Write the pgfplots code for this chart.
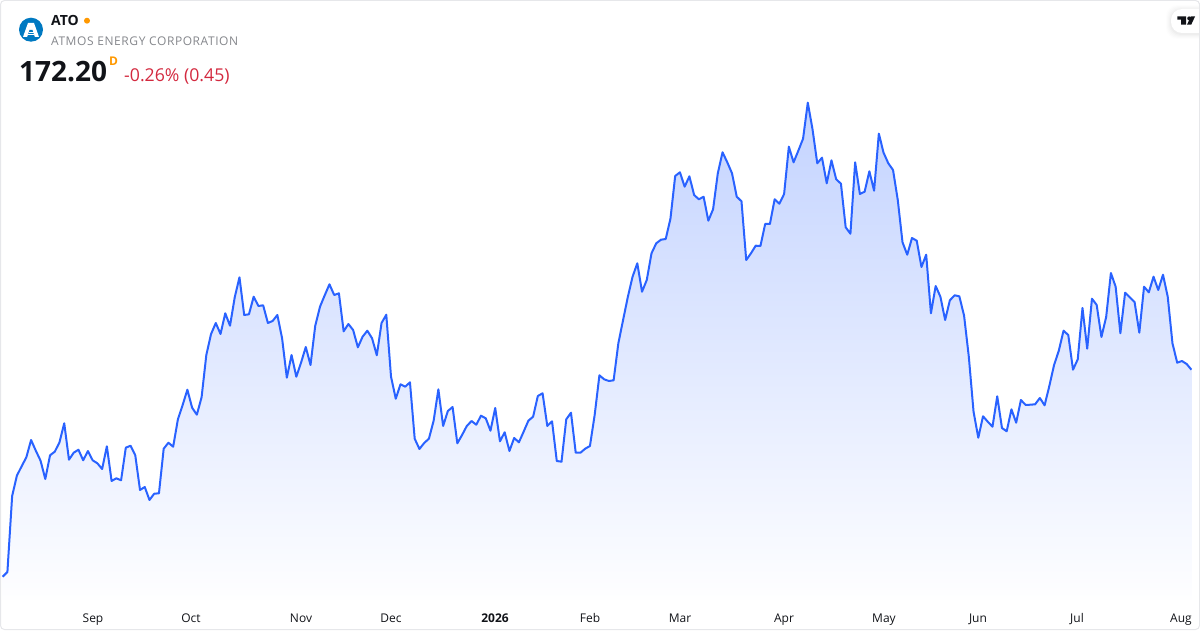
\documentclass[border=0pt]{standalone}
\usepackage{fontspec}
\setmainfont{Open Sans}
\usepackage{pgfplots}
\usepackage{pgfplotstable}
\pgfplotsset{compat=1.18}
\definecolor{tvline}{HTML}{2962FF}
\definecolor{tvtop}{HTML}{C3D3FF}
\definecolor{tvbot}{HTML}{FEFEFF}
\definecolor{tvframe}{HTML}{E6E7EA}
\definecolor{tvtext}{HTML}{111318}
\definecolor{tvgray}{HTML}{85878C}
\definecolor{tvred}{HTML}{D3293F}
\definecolor{tvorange}{HTML}{FF9800}
\definecolor{atoblue}{HTML}{0079C1}
% i = trading-day index, p = vertical position (px from the top)
\pgfplotstableread{
i p
0 576.7
1 572
2 496
3 475.7
4 466.3
5 457.3
6 440
7 450.7
8 460.7
9 479
10 455.3
11 451.7
12 442.3
13 423.3
14 459.7
15 452.7
16 449.7
17 460.3
18 451
19 460.3
20 463.3
21 469
22 446.3
23 481
24 478.3
25 480.3
26 447.7
27 445.7
28 455.3
29 490
30 487
31 500
32 493.7
33 493.3
34 448.7
35 442.7
36 446.7
37 419.3
38 405
39 389.7
40 407.7
41 414.7
42 397.3
43 355
44 334
45 323
46 334
47 313.3
48 325.7
49 297.3
50 277.3
51 315
52 314.3
53 296.7
54 306
55 305.3
56 323
57 321
58 315
59 338.3
60 377.7
61 355
62 376.7
63 362.7
64 347
65 365
66 325.7
67 306.7
68 295.3
69 284.3
70 295
71 293.3
72 331.3
73 324
74 330
75 347.3
76 336.7
77 330.7
78 338.3
79 355.3
80 323
81 314.7
82 376.7
83 398.7
84 384.3
85 386.7
86 382.3
87 438.7
88 449
89 443
90 438.7
91 420.7
92 389.3
93 426
94 411
95 407
96 443.3
97 435
98 426
99 421
100 424.7
101 415.7
102 418.3
103 430.7
104 408
105 441.3
106 432.3
107 451
108 438
109 442.3
110 431.7
111 420.7
112 416.7
113 396
114 393.3
115 426
116 421.3
117 461
118 461.7
119 419.3
120 412.7
121 452.7
122 452.7
123 448.7
124 446
125 415
126 375.3
127 379.3
128 381
129 380.3
130 343.3
131 320
132 297
133 276.7
134 263.3
135 291.7
136 280
137 253.3
138 243.3
139 239.7
140 239
141 218.7
142 176
143 172.3
144 186.7
145 176.3
146 195
147 199.3
148 196.7
149 220.7
150 209.3
151 173.3
152 152.3
153 162.3
154 173.3
155 196.7
156 201.3
157 260
158 253.3
159 245.7
160 246
161 224
162 224
163 199.3
164 203.7
165 194
166 146.7
167 162.3
168 150.7
169 138.7
170 102.7
171 129.3
172 163.3
173 157.7
174 183.3
175 160.3
176 179.3
177 183.7
178 227.3
179 233.7
180 162.3
181 194
182 191.7
183 171.3
184 190.7
185 133.7
186 152.7
187 163.3
188 170
189 200
190 242.3
191 254.7
192 238
193 240.7
194 267
195 254.7
196 313.3
197 286
198 296.7
199 320
200 300.3
201 295.3
202 296.3
203 315.7
204 356.7
205 411.7
206 437.7
207 416.3
208 421.7
209 426.7
210 396.3
211 428
212 431.3
213 409.3
214 422.7
215 400
216 405
217 404.7
218 404.3
219 398
220 405.3
221 386
222 365
223 350.7
224 330.7
225 335
226 369.7
227 359.3
228 308
229 348.7
230 298.7
231 305
232 337
233 317
234 273
235 286.7
236 333.3
237 292.7
238 297.3
239 302
240 332.7
241 286.7
242 292.3
243 276.7
244 290
245 274.7
246 296.7
247 343.3
248 362.7
249 361
250 364
251 369.7
}\atodata
\begin{document}
\begin{tikzpicture}
\useasboundingbox (0,-30pt) rectangle (1200pt,600pt);
\begin{axis}[
  at={(0,0)}, anchor=south west,
  width=1200pt, height=600pt, scale only axis,
  xmin=0, xmax=1200, ymin=0, ymax=600,
  axis line style={draw=none},
  ytick=\empty,
  xtick={93,191,301,391,495,590,680,784,884,978,1077,1181},
  xticklabels={Sep,Oct,Nov,Dec,\textbf{2026},Feb,Mar,Apr,May,Jun,Jul,Aug},
  major tick length=0pt,
  tick align=outside,
  xticklabel style={font=\fontsize{12}{14}\selectfont, text=tvtext, anchor=base, yshift=-22pt},
]
\addplot[draw=none, top color=tvtop, bottom color=tvbot, forget plot]
  table[x expr=\thisrow{i}*4.736+2.67, y expr=600-\thisrow{p}] {\atodata} \closedcycle;
\addplot[tvline, line width=2pt, line join=round, no marks]
  table[x expr=\thisrow{i}*4.736+2.67, y expr=600-\thisrow{p}] {\atodata};
\end{axis}
\begin{scope}[shift={(0,600pt)}, x=1pt, y=-1pt]
  % frame
  \draw[tvframe, line width=1pt, rounded corners=4pt] (0.5,0.5) rectangle (1199.5,629.5);
  % TradingView badge
  \foreach \g/\o in {5/.008,4/.01,3/.012,2/.015,1/.02}{
    \fill[black, opacity=\o, rounded corners=11pt] (1171-\g,9-\g+1) rectangle (1215,33+\g+1);
  }
  \fill[white, rounded corners=11pt] (1171,9) rectangle (1215,33);
  \fill[white] (1199,3) rectangle (1201,45);
  \draw[tvframe, line width=1pt] (1199.5,3) -- (1199.5,45);
  \fill[tvtext] (1177.3,16.5) -- (1186,16.5) -- (1186,24.7) -- (1181,24.7) -- (1181,19.7) -- (1177.3,19.7) -- cycle;
  \fill[tvtext] (1189.2,18.4) circle[radius=2];
  \fill[tvtext] (1187,24.7) -- (1190.8,16.5) -- (1195,16.5) -- (1191.2,24.7) -- cycle;
  % logo
  \fill[atoblue] (31,29.7) circle[radius=12];
  \fill[white] (28,23) -- (34,23) -- (39,37) -- (23,37) -- cycle;
  \fill[atoblue] (29.5,30) -- (32.5,30) -- (34.8,37) -- (27.2,37) -- cycle;
  \draw[white, line width=.7pt] (28.5,32) -- (33.5,32) (27.9,34.2) -- (34.1,34.2);
  % header texts
  \node[anchor=base west, inner sep=0pt, text=tvtext, font=\fontsize{14}{16}\selectfont\bfseries] at (51,26) {ATO};
  \fill[tvorange] (87,20.7) circle[radius=3];
  \node[anchor=base west, inner sep=0pt, text=tvgray, font=\fontsize{12}{14}\selectfont\addfontfeature{LetterSpace=4.8}] at (51,45.5) {ATMOS ENERGY CORPORATION};
  \node[anchor=base west, inner sep=0pt, text=tvtext, font=\fontsize{28}{32}\selectfont\bfseries] at (19,82) {172.20};
  \node[anchor=base west, inner sep=0pt, text=tvorange, font=\fontsize{12}{14}\selectfont\bfseries] at (109,65.5) {D};
  \node[anchor=base west, inner sep=0pt, text=tvred, font=\fontsize{17.7}{20}\selectfont] at (124,81.5) {-0.26\% (0.45)};
\end{scope}
\end{tikzpicture}
\end{document}
